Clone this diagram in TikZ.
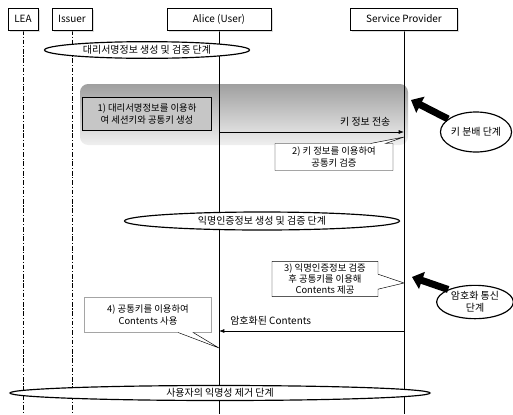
\documentclass[tikz,border=0pt]{standalone}
\usepackage{fontspec}
\setmainfont{Noto Sans CJK KR}
\usetikzlibrary{positioning,arrows.meta,shapes.geometric,shapes.callouts,shadows,backgrounds}

\begin{document}
\begin{tikzpicture}[
  x=0.03cm, y=-0.03cm,
  >={Latex[length=1.6mm]},
  every node/.style={font=\fontsize{8.5}{10}\selectfont, align=center},
  actor/.style={draw, fill=white, minimum height=0.66cm, inner sep=2pt,
    drop shadow={shadow xshift=1.5pt, shadow yshift=-1.5pt, fill=gray!55}},
  life/.style={line width=0.6pt},
  dashlife/.style={line width=0.6pt, dash pattern=on 4pt off 1.5pt on 1pt off 1.5pt},
  phase/.style={ellipse, draw, line width=1pt, fill=white, inner sep=0pt},
  note/.style={draw, fill=white, inner sep=2pt, font=\fontsize{8}{9.5}\selectfont},
  tailnote/.style={note, rectangle callout, callout pointer width=0.45cm},
  msg/.style={->, line width=0.6pt},
  lead/.style={line width=6pt, -{Triangle[length=9pt, width=15pt]}}
]
\useasboundingbox (0,0) rectangle (513,414);

\node[actor, minimum width=0.9cm]  (lea)    at (23,19)  {LEA};
\node[actor, minimum width=1.2cm]  (issuer) at (72,19)  {Issuer};
\node[actor, minimum width=3.12cm] (alice)  at (219,19) {Alice (User)};
\node[actor, minimum width=3.2cm]  (sp)     at (404,19) {Service Provider};

\coordinate (bottom) at (0,414);

\begin{scope}[on background layer]
  \shade[top color=gray!75, bottom color=gray!12, rounded corners=7pt] (80,84) rectangle (408,145);
  \draw[dashlife] (lea.south)    -- (lea.south |- bottom);
  \draw[dashlife] (issuer.south) -- (issuer.south |- bottom);
  \draw[life]     (alice.south)  -- (alice.south |- bottom);
  \draw[life]     (sp.south)     -- (sp.south |- bottom);
\end{scope}

\node[phase, minimum width=6.15cm, minimum height=0.5cm] (proxy) at (147,50) {대리서명정보 생성 및 검증 단계};
\node[phase, minimum width=8.25cm, minimum height=0.54cm] (anon) at (262,221) {익명인증정보 생성 및 검증 단계};
\node[phase, minimum width=12.6cm, minimum height=0.45cm] (revoke) at (220,393) {사용자의 익명성 제거 단계};
\node[phase, minimum width=2.1cm, minimum height=1.2cm] (keydist) at (476,132) {키 분배 단계};
\node[phase, minimum width=2.3cm, minimum height=1.0cm, inner sep=1pt] (secure) at (475,302) {암호화 통신\\단계};

\coordinate (kiA) at (219,132);
\coordinate (kiS) at (404,132);
\coordinate (ecS) at (404,331);
\coordinate (ecA) at (219,331);
\coordinate (p2) at (404,137);
\coordinate (p3) at (404,283);
\coordinate (p4) at (219,348);
\coordinate (kdtip) at (411,100);
\coordinate (sctip) at (412,277);

\node[note, fill=gray!45, minimum width=3.87cm, minimum height=1.0cm] (n1) at (147,114)
  {1) 대리서명정보를 이용하\\여 세션키와 공통키 생성};
\node[tailnote, minimum width=3.54cm, minimum height=0.81cm, callout absolute pointer={(p2)}] (n2) at (334,157)
  {2) 키 정보를 이용하여\\공통키 검증};
\node[tailnote, minimum width=3.18cm, minimum height=1.02cm, callout absolute pointer={(p3)}] (n3) at (325,279)
  {3) 익명인증정보 검증\\후 공통키를 이용해\\Contents 제공};
\node[tailnote, minimum width=3.81cm, minimum height=1.05cm, callout absolute pointer={(p4)}] (n4) at (148,315)
  {4) 공통키를 이용하여\\Contents 사용};

\draw[msg] (kiA) -- (kiS) node[pos=1, above left=1pt and 8pt] {키 정보 전송};
\draw[msg] (ecS) -- (ecA) node[pos=1, above right=1pt and 6pt] {암호화된 Contents};

\draw[lead] (keydist.155) -- (kdtip);
\draw[lead] (secure.155) -- (sctip);

\end{tikzpicture}
\end{document}
